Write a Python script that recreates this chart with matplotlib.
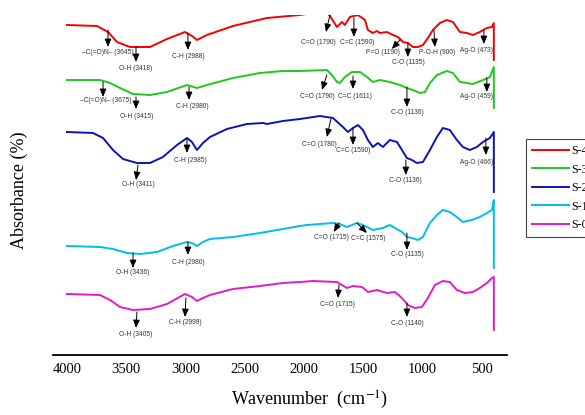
import matplotlib
matplotlib.use('Agg')
import matplotlib.pyplot as plt

plt.rcParams['mathtext.fontset'] = 'stix'

# FTIR spectra (wavenumber in cm-1, stacked absorbance in a.u.)
s4_wn = [4000, 3747, 3654, 3578, 3469, 3300, 3157, 3005, 2946, 2904, 2820, 2600, 2314, 2035,
         1926, 1808, 1782, 1723, 1681, 1656, 1614, 1546, 1487, 1462, 1420, 1386, 1361, 1302,
         1251, 1209, 1167, 1125, 1083, 1040, 998, 956, 914, 855, 796, 745, 686, 627, 577,
         518, 459, 416, 400, 400]
s4_abs = [330, 329, 323, 313, 308, 308, 316, 323, 319, 315, 320, 329, 337, 340,
          342, 342, 339, 328, 333, 330, 338, 340, 335, 325, 322, 324, 322, 323,
          320, 318, 313, 312, 308, 308, 310, 317, 325, 332, 335, 333, 323, 322, 320,
          323, 327, 328, 332, 295]

s3_wn = [4000, 3722, 3637, 3553, 3443, 3300, 3157, 2988, 2904, 2820, 2600, 2373, 2179, 2035,
         1808, 1766, 1723, 1698, 1656, 1597, 1529, 1470, 1420, 1361, 1277, 1192, 1133, 1083,
         1023, 981, 939, 880, 796, 745, 686, 627, 577, 492, 433, 400, 400]
s3_abs = [275, 275, 272, 267, 261, 260, 263, 270, 267, 270, 277, 282, 284, 284,
          285, 280, 273, 272, 278, 283, 283, 278, 273, 275, 273, 270, 267, 265,
          262, 263, 272, 280, 284, 282, 273, 272, 271, 275, 278, 288, 247]

s2_wn = [4000, 3781, 3696, 3612, 3528, 3410, 3300, 3191, 3072, 2988, 2946, 2904, 2853, 2794,
         2651, 2482, 2347, 2314, 2179, 2035, 1867, 1757, 1673, 1631, 1588, 1546, 1504, 1462,
         1420, 1378, 1336, 1277, 1217, 1175, 1133, 1091, 1049, 998, 939, 880, 830, 771, 712,
         661, 602, 543, 492, 433, 400, 400]
s2_abs = [223, 222, 217, 205, 196, 192, 192, 198, 210, 217, 213, 205, 212, 218,
          226, 231, 232, 231, 234, 236, 239, 237, 228, 223, 227, 230, 225, 215,
          208, 212, 208, 215, 213, 205, 197, 195, 192, 193, 205, 218, 227, 225, 215,
          208, 205, 208, 213, 217, 223, 163]

s1_wn = [4000, 3722, 3612, 3494, 3384, 3241, 3106, 2988, 2946, 2904, 2853, 2794, 2600, 2373,
         2179, 2035, 1976, 1757, 1698, 1639, 1555, 1504, 1420, 1336, 1277, 1234, 1175, 1133,
         1091, 1040, 998, 939, 880, 830, 771, 712, 661, 585, 518, 459, 416, 400, 400]
s1_abs = [109, 108, 106, 102, 101, 103, 109, 113, 112, 109, 113, 116, 118, 122,
          126, 129, 130, 132, 131, 128, 132, 130, 125, 127, 130, 127, 123, 118,
          117, 115, 118, 132, 140, 145, 143, 138, 133, 135, 138, 142, 145, 155, 87]

s0_wn = [4000, 3722, 3637, 3553, 3443, 3300, 3157, 3005, 2946, 2904, 2853, 2794, 2600, 2373,
         2179, 2035, 1926, 1723, 1681, 1639, 1588, 1512, 1462, 1386, 1302, 1234, 1175, 1125,
         1066, 1007, 956, 897, 830, 771, 712, 644, 577, 518, 459, 416, 400, 400]
s0_abs = [61, 60, 55, 48, 45, 46, 51, 61, 58, 54, 57, 60, 66, 69,
          72, 73, 74, 73, 70, 67, 69, 68, 63, 65, 62, 63, 57, 50,
          47, 48, 57, 70, 74, 73, 65, 62, 63, 67, 72, 77, 78, 25]

names = ['S-4', 'S-3', 'S-2', 'S-1', 'S-0']
colors = ['#f50000', '#1ec81e', '#0a14b4', '#00bee6', '#e619c8']

xticks = [4000, 3500, 3000, 2500, 2000, 1500, 1000, 500]

# peak labels: text, arrow tail (wn, y), arrow head (wn, y), text position (wn, y)
peaks = [
    ('–C(=O)N– (3645)', (3654, 325), (3654, 308), (3654, 302)),
    ('O-H (3418)', (3418, 308), (3418, 293), (3418, 287)),
    ('C-H (2988)', (2980, 322), (2980, 305), (2980, 299)),
    ('C=O (1790)', (1782, 340), (1816, 323), (1884, 312)),
    ('C=C (1590)', (1580, 337), (1580, 318), (1555, 312)),
    ('P=O (1190)', (1184, 316), (1260, 306), (1336, 302)),
    ('C-O (1135)', (1125, 312), (1125, 298), (1125, 293)),
    ('P-O-H (900)', (905, 325), (897, 308), (880, 303)),
    ('Ag-O (473)', (484, 325), (484, 311), (543, 304)),

    ('–C(=O)N– (3675)', (3696, 273), (3696, 258), (3675, 254)),
    ('O-H (3415)', (3418, 258), (3418, 246), (3410, 238)),
    ('C-H (2980)', (2971, 268), (2971, 255), (2946, 249)),
    ('C=O (1790)', (1808, 280), (1850, 265), (1892, 258)),
    ('C=C (1611)', (1588, 279), (1588, 266), (1571, 259)),
    ('C-O (1136)', (1133, 268), (1133, 248), (1133, 243)),
    ('Ag-O (459)', (459, 277), (459, 263), (543, 258)),

    ('O-H (3411)', (3401, 190), (3418, 175), (3401, 171)),
    ('C-H (2985)', (2988, 216), (2988, 202), (2963, 194)),
    ('C=O (1780)', (1774, 236), (1808, 218), (1875, 211)),
    ('C=C (1590)', (1588, 227), (1588, 210), (1588, 205)),
    ('C-O (1136)', (1142, 195), (1142, 180), (1142, 175)),
    ('Ag-O (466)', (467, 217), (467, 200), (543, 193)),

    ('O-H (3436)', (3443, 102), (3443, 87), (3443, 82)),
    ('C-H (2980)', (2980, 113), (2980, 100), (2980, 93)),
    ('C=O (1715)', (1706, 132), (1749, 123), (1766, 118)),
    ('C=C (1575)', (1555, 132), (1470, 122), (1462, 117)),
    ('C-O (1135)', (1133, 122), (1133, 105), (1133, 100)),

    ('O-H (3405)', (3410, 43), (3418, 27), (3418, 21)),
    ('C-H (2999)', (2997, 57), (3005, 38), (3005, 33)),
    ('C=O (1715)', (1706, 70), (1715, 57), (1723, 50)),
    ('C-O (1140)', (1133, 52), (1133, 38), (1133, 32)),
]

fig = plt.figure(figsize=(5.85, 4.15), dpi=100)
ax = fig.add_axes([53 / 585, 60 / 415, 454 / 585, 340 / 415])

series = [(s4_wn, s4_abs), (s3_wn, s3_abs), (s2_wn, s2_abs), (s1_wn, s1_abs), (s0_wn, s0_abs)]
for (wn, ab), name, c in zip(series, names, colors):
    ax.plot(wn, ab, color=c, lw=1.4, label=name)

for label, tail, head, txt in peaks:
    ax.annotate('', xy=head, xytext=tail,
                arrowprops=dict(arrowstyle='-|>,head_length=0.6,head_width=0.25',
                                color='black', lw=0.7, shrinkA=0, shrinkB=0,
                                mutation_scale=8))
    ax.text(txt[0], txt[1], label, ha='center', va='center', fontsize=4.8,
            family='Liberation Sans', color='#333333')

ax.set_xlim(4118, 289)
ax.set_ylim(0, 340)
ax.set_xticks(xticks)
ax.set_xticklabels([str(t) for t in xticks], family='Liberation Serif', fontsize=10.5)
ax.tick_params(axis='x', length=0, pad=6)
ax.set_yticks([])
for s in ['left', 'top', 'right']:
    ax.spines[s].set_visible(False)
ax.spines['bottom'].set_linewidth(1.3)

ax.set_xlabel(r'Wavenumber  (cm$^{-1}$)', family='Liberation Serif', fontsize=13)
ax.xaxis.set_label_coords(0.566, -0.10)
ax.set_ylabel('Absorbance (%)', family='Liberation Serif', fontsize=13)
ax.yaxis.set_label_coords(-0.055, 0.485)

leg = fig.legend(loc='upper left', bbox_to_anchor=(526 / 585, 276 / 415),
                 prop={'family': 'Liberation Serif', 'size': 8.6},
                 handlelength=3.1, handletextpad=0.15, fancybox=False,
                 edgecolor='#444444', framealpha=1, borderpad=0.5, labelspacing=0.55,
                 borderaxespad=0)
leg.get_frame().set_linewidth(0.8)

fig.savefig('out.png', dpi=100)
